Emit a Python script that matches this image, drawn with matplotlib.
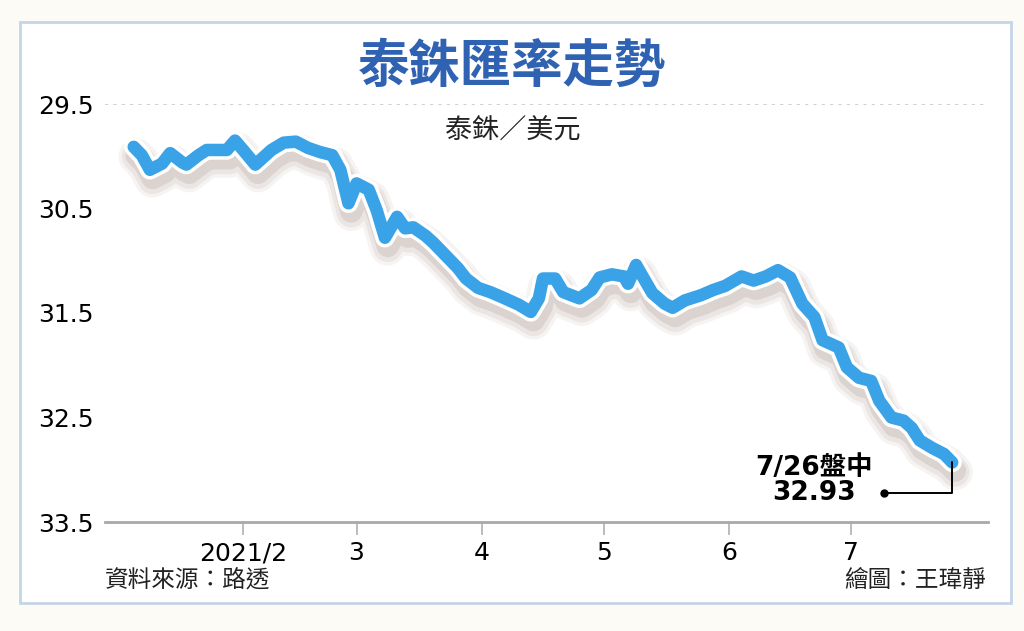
import matplotlib
matplotlib.use("Agg")
import matplotlib.pyplot as plt
import matplotlib.patheffects as pe
import matplotlib.transforms as mtransforms
from matplotlib.patches import Rectangle
import pandas as pd

# data (THB per USD, 2021)
dates = pd.to_datetime([
    "2021-01-05", "2021-01-07", "2021-01-09", "2021-01-12", "2021-01-14", "2021-01-17",
    "2021-01-18", "2021-01-21", "2021-01-23", "2021-01-26", "2021-01-28", "2021-01-30",
    "2021-02-01", "2021-02-04", "2021-02-06", "2021-02-08", "2021-02-11", "2021-02-14",
    "2021-02-17", "2021-02-20", "2021-02-23", "2021-02-25", "2021-02-27", "2021-03-01",
    "2021-03-04", "2021-03-06", "2021-03-08", "2021-03-11", "2021-03-13", "2021-03-15",
    "2021-03-18", "2021-03-20", "2021-03-23", "2021-03-26", "2021-03-28", "2021-03-31",
    "2021-04-03", "2021-04-06", "2021-04-10", "2021-04-13", "2021-04-15", "2021-04-16",
    "2021-04-19", "2021-04-21", "2021-04-25", "2021-04-28", "2021-04-30", "2021-05-03",
    "2021-05-06", "2021-05-07", "2021-05-09", "2021-05-10", "2021-05-13", "2021-05-16",
    "2021-05-18", "2021-05-21", "2021-05-25", "2021-05-28", "2021-05-31", "2021-06-04",
    "2021-06-07", "2021-06-10", "2021-06-13", "2021-06-16", "2021-06-19", "2021-06-22",
    "2021-06-24", "2021-06-28", "2021-06-30", "2021-07-03", "2021-07-06", "2021-07-08",
    "2021-07-11", "2021-07-14", "2021-07-16", "2021-07-18", "2021-07-21", "2021-07-24",
    "2021-07-26",
])
thb_usd = [
    29.91, 29.99, 30.13, 30.07, 29.97, 30.06,
    30.08, 29.99, 29.94, 29.94, 29.94, 29.85,
    29.94, 30.08, 30.01, 29.94, 29.87, 29.86,
    29.92, 29.96, 29.99, 30.13, 30.45, 30.26,
    30.32, 30.52, 30.78, 30.58, 30.69, 30.68,
    30.76, 30.83, 30.95, 31.07, 31.17, 31.26,
    31.30, 31.35, 31.42, 31.49, 31.36, 31.17,
    31.17, 31.30, 31.36, 31.28, 31.16, 31.13,
    31.15, 31.22, 31.04, 31.11, 31.31, 31.41,
    31.45, 31.38, 31.33, 31.28, 31.24, 31.15,
    31.19, 31.15, 31.09, 31.16, 31.41, 31.54,
    31.76, 31.83, 32.02, 32.12, 32.15, 32.34,
    32.50, 32.53, 32.60, 32.72, 32.79, 32.85,
    32.93,
]
y_ticks = [29.5, 30.5, 31.5, 32.5, 33.5]
month_ticks = pd.to_datetime(["2021-02-01", "2021-03-01", "2021-04-01",
                              "2021-05-01", "2021-06-01", "2021-07-01"])
month_labels = ["2021/2", "3", "4", "5", "6", "7"]

CJK = ["Noto Sans CJK TC", "DejaVu Sans"]
NUM = ["DejaVu Sans", "Noto Sans CJK TC"]

fig = plt.figure(figsize=(10.24, 6.31), dpi=100, facecolor="#fcfbf6")
# outer framed panel
fig.patches.append(Rectangle((20 / 1024, 1 - 603 / 631), 991 / 1024, 581 / 631,
                             transform=fig.transFigure, facecolor="white",
                             edgecolor="#c3d5e8", lw=2, zorder=-5))

ax = fig.add_axes([105 / 1024, 1 - 522 / 631, 883 / 1024, 418 / 631])
ax.set_facecolor("none")

# soft drop shadow + white halo
shadow = [
    pe.SimpleLineShadow(offset=(2, -7), shadow_color="#6b4a3a", alpha=0.06, linewidth=26),
    pe.SimpleLineShadow(offset=(2, -7), shadow_color="#6b4a3a", alpha=0.08, linewidth=21),
    pe.SimpleLineShadow(offset=(2, -6), shadow_color="#6b4a3a", alpha=0.12, linewidth=16),
    pe.Stroke(linewidth=14, foreground="white"),
    pe.Normal(),
]
ax.plot(dates, thb_usd, color="#3aa2e6", lw=9, solid_joinstyle="round",
        solid_capstyle="round", path_effects=shadow, zorder=3)

ax.set_ylim(33.5, 29.5)
ax.set_xlim(pd.Timestamp("2020-12-28 22:00"), pd.Timestamp("2021-08-03 20:00"))
ax.set_yticks(y_ticks)
ax.set_yticklabels([f"{v:.1f}" for v in y_ticks], family=NUM, fontsize=18)
ax.set_xticks(month_ticks)
ax.set_xticklabels(month_labels, family=NUM, fontsize=18)
ax.tick_params(axis="y", length=0, pad=8)
ax.tick_params(axis="x", length=9, width=1.2, color="#b0b0b0", pad=5)

for s in ["left", "right", "top"]:
    ax.spines[s].set_visible(False)
ax.spines["bottom"].set_color("#a8a8a8")
ax.spines["bottom"].set_linewidth(2)
ax.axhline(y_ticks[0], color="#c8c8c8", lw=1.2, ls=(0, (2, 3)), zorder=1)

# end-point call-out
end_x, end_y = dates[-1], thb_usd[-1]
ax.annotate("", xy=(end_x, end_y), xytext=(-68, -31), textcoords="offset pixels",
            arrowprops=dict(arrowstyle="-", color="black", lw=1.4, shrinkA=0, shrinkB=0,
                            connectionstyle="angle,angleA=0,angleB=90,rad=0"), zorder=4)
dot = mtransforms.offset_copy(ax.transData, fig=fig, x=-68, y=-31, units="dots")
ax.plot([end_x], [end_y], marker="o", ms=5, color="black", transform=dot, zorder=4)
ax.annotate(f"7/26盤中\n{end_y:.2f}", xy=(end_x, end_y), xytext=(-138, -18),
            textcoords="offset pixels", ha="center", va="center", family=NUM,
            fontsize=19, fontweight="bold", linespacing=0.95, zorder=4)

fig.text(0.5, 1 - 66 / 631, "泰銖匯率走勢", ha="center", va="center", family=CJK,
         fontsize=37, fontweight="bold", color="#2f62b2")
fig.text(513 / 1024, 1 - 130 / 631, "泰銖／美元", ha="center", va="center", family=CJK,
         fontsize=19.5, color="#222222")
fig.text(105 / 1024, 1 - 580 / 631, "資料來源：路透", ha="left", va="center", family=CJK,
         fontsize=17, color="#222222")
fig.text(986 / 1024, 1 - 580 / 631, "繪圖：王瑋靜", ha="right", va="center", family=CJK,
         fontsize=17, color="#222222")

fig.savefig("out.png", dpi=100, facecolor=fig.get_facecolor())
